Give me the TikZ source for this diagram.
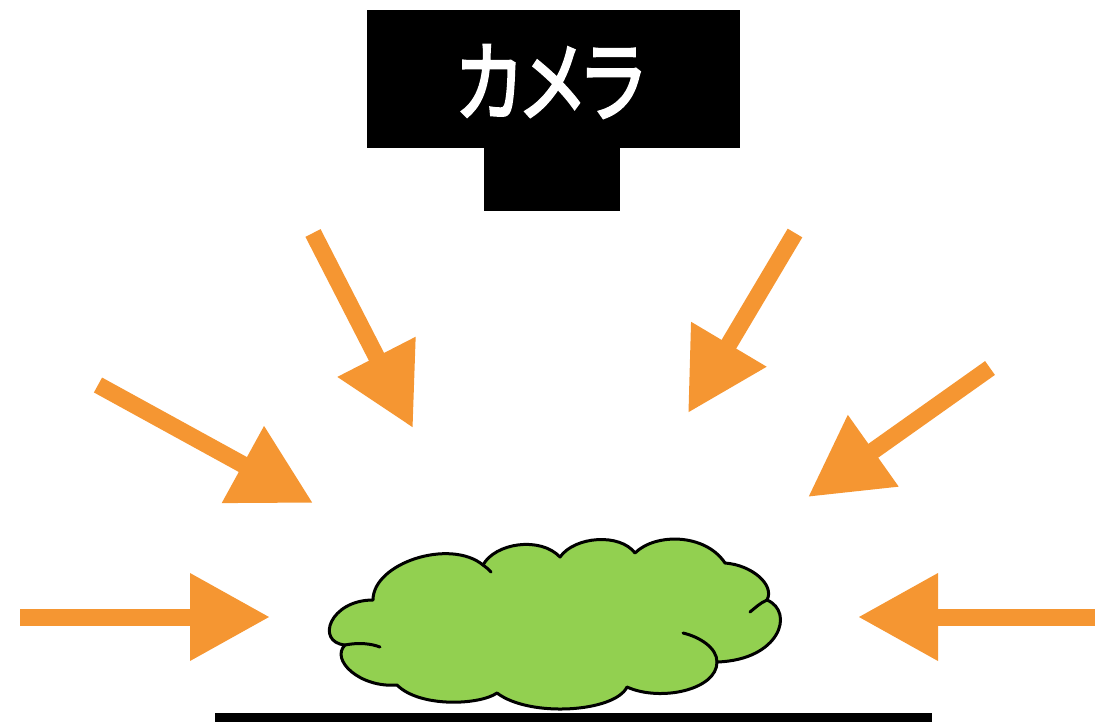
\documentclass[tikz,border=0pt]{standalone}
\usepackage{fontspec}
\usepackage{graphicx}
\newfontfamily\jpfont{Noto Sans CJK JP}[RawFeature=+palt, FakeBold=3]
\usetikzlibrary{arrows.meta}
\definecolor{rayorange}{RGB}{245,150,50}
\definecolor{bushgreen}{RGB}{146,208,80}
\tikzset{
  camerabody/.style={fill=black, inner sep=0pt, minimum width=373pt, minimum height=138pt},
  cameralabel/.style={inner sep=0pt, text=white},
  cameralens/.style={fill=black, inner sep=0pt, minimum width=136pt, minimum height=63pt},
  ray/.style={draw=rayorange, line width=17pt,
    -{Triangle[length=80pt, width=83pt, fill=rayorange]}},
  bush/.style={fill=bushgreen, draw=black, line width=3pt, line join=round},
  crease/.style={draw=black, line width=3pt, line cap=round},
  ground/.style={draw=black, line width=9pt}
}
\begin{document}
\begin{tikzpicture}[x=1pt, y=-1pt]
\useasboundingbox (0,0) rectangle (1095,726);

% camera
\node[camerabody] (cam) at (553.5,79) {};
\node[cameralabel] (camlabel) at (550,81.5)
  {\resizebox*{188pt}{73pt}{\jpfont\fontsize{80pt}{84pt}\selectfont カメラ}};
\node[cameralens, anchor=north] (lens) at (552,147.5) {};

% incoming light rays
\coordinate (r1s) at (313,233);  \coordinate (r1t) at (413,428);
\coordinate (r2s) at (98,385);   \coordinate (r2t) at (313,503);
\coordinate (r3s) at (20,617);   \coordinate (r3t) at (270,617);
\coordinate (r4s) at (795,233);  \coordinate (r4t) at (688,413);
\coordinate (r5s) at (990,368);  \coordinate (r5t) at (808,497);
\coordinate (r6s) at (1100,617); \coordinate (r6t) at (858,617);
\foreach \r in {1,...,6} \draw[ray] (r\r s) -- (r\r t);

% the subject: a green bush shaped like a cloud
\coordinate (j1) at (373,600);
\coordinate (j2) at (483,565);
\coordinate (j3) at (560,557);
\coordinate (j4) at (635,553);
\coordinate (j5) at (725,563);
\coordinate (j6) at (767,600);
\coordinate (j7) at (717,662);
\coordinate (j8) at (627,687);
\coordinate (j9) at (497,693);
\coordinate (j10) at (397,685);
\coordinate (j11) at (345,645);
\path[bush] (j1)
  .. controls (373,563) and (450,538) .. (j2)
  .. controls (495,543) and (540,536) .. (j3)
  .. controls (575,536) and (620,533) .. (j4)
  .. controls (655,533) and (705,533) .. (j5)
  .. controls (752,565) and (775,585) .. (j6)
  .. controls (795,612) and (780,660) .. (j7)
  .. controls (717,690) and (660,702) .. (j8)
  .. controls (615,712) and (530,718) .. (j9)
  .. controls (480,705) and (420,708) .. (j10)
  .. controls (360,688) and (330,660) .. (j11)
  .. controls (315,642) and (330,600) .. (j1) -- cycle;
% creases between the puffs
\path[crease] (j2) .. controls (486,567) and (488,569) .. (491,572);
\path[crease] (j6) .. controls (760,603) and (755,608) .. (750,612);
\path[crease] (683,633) .. controls (700,637) and (717,648) .. (j7);
\path[crease] (j11) .. controls (360,642) and (372,644) .. (380,647);

% ground
\coordinate (g1) at (215,717.5);
\coordinate (g2) at (932,717.5);
\draw[ground] (g1) -- (g2);
\end{tikzpicture}
\end{document}
